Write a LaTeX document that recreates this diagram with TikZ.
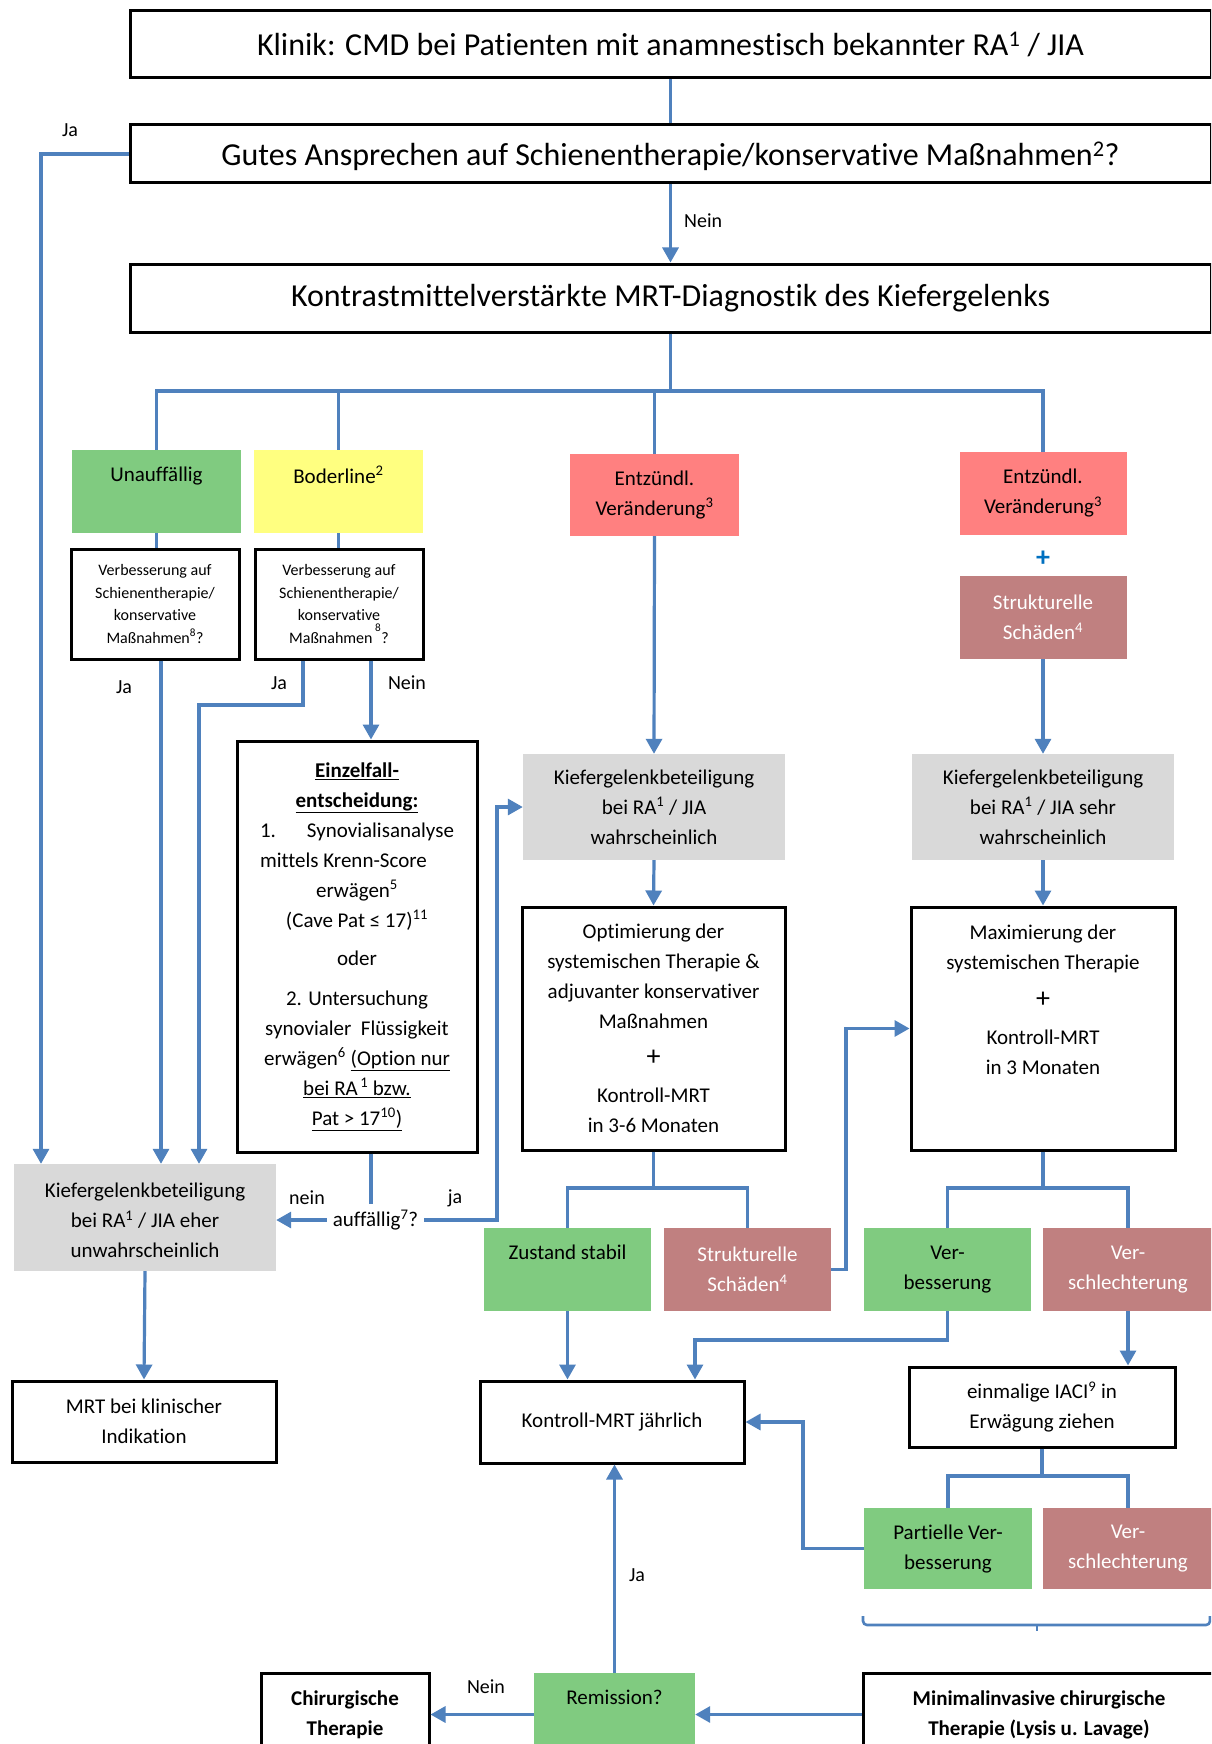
\documentclass[tikz,border=0pt]{standalone}
\usepackage{fontspec}
\setmainfont{Carlito}[Ligatures = NoCommon]
\usetikzlibrary{arrows.meta}

\definecolor{linkblue}{RGB}{79,129,189}
\definecolor{plusblue}{RGB}{0,112,192}
\definecolor{gruen}{RGB}{128,203,128}
\definecolor{gelb}{RGB}{255,255,128}
\definecolor{lachs}{RGB}{255,128,128}
\definecolor{rosa}{RGB}{192,128,128}
\definecolor{grau}{RGB}{217,217,217}

\newcommand\fgross{\fontsize{32}{38}\selectfont}
\newcommand\fnormal{\fontsize{21}{30}\selectfont}
\newcommand\fklein{\fontsize{16}{22.5}\selectfont}
\newcommand\fmarke{\fontsize{20}{24}\selectfont}

\begin{document}
\begin{tikzpicture}[
    x = 1pt, y = -1pt,
    % boxes with a black frame
    rahmen/.style = {draw = black, line width = 3pt, fill = white,
      inner sep = 0pt, align = center, font = \fnormal},
    kopf/.style = {rahmen, minimum width = 1081pt, font = \fgross},
    % coloured boxes without frame
    feld/.style = {fill = #1, inner sep = 0pt, align = center, font = \fnormal},
    weiss/.style = {text = white},
    linie/.style = {draw = linkblue, line width = 3.2pt},
    pfeil/.style = {linie, -{Triangle[length = 15pt, width = 16pt]}},
    marke/.style = {inner sep = 0pt, font = \fmarke},
    ]

    \useasboundingbox (0, 0) rectangle (1211, 1744);
    \clip (0, 0) rectangle (1211, 1744);
    \fill[white] (0, 0) rectangle (1211, 1744);

    % the three headers, open to the right
    \node[kopf, minimum height = 67pt] (klinik) at (670.5, 44.5)
      {Klinik: CMD bei Patienten mit anamnestisch bekannter RA\textsuperscript{1} / JIA};
    \node[kopf, minimum height = 58pt, text height = 28pt, text depth = 4pt] (gutes) at (670.5, 154)
      {Gutes Ansprechen auf Schienentherapie/konservative Ma\ss nahmen\textsuperscript{2}?};
    \node[kopf, minimum height = 68pt] (mrt) at (670.5, 298)
      {Kontrastmittelverst\"arkte MRT-Diagnostik des Kiefergelenks};

    % findings of the MRT
    \node[feld = gruen, minimum width = 169pt, minimum height = 83pt] (unauff) at (156.5, 491.5)
      {Unauff\"allig\\[4pt]\mbox{}};
    \node[feld = gelb, minimum width = 169pt, minimum height = 83pt] (boder) at (338.5, 491.5)
      {Boderline\textsuperscript{2}\\[4pt]\mbox{}};
    \node[feld = lachs, minimum width = 169pt, minimum height = 82pt] (entz1) at (654.5, 495)
      {Entz\"undl.\\Ver\"anderung\textsuperscript{3}};
    \node[feld = lachs, minimum width = 167pt, minimum height = 83pt] (entz2) at (1043, 493.5)
      {Entz\"undl.\\Ver\"anderung\textsuperscript{3}};
    \node[inner sep = 0pt, text = plusblue, font = \fontsize{28}{30}\selectfont\bfseries] (plus) at (1043, 559) {+};
    \node[feld = rosa, weiss, minimum width = 167pt, minimum height = 83pt] (strukt1) at (1043, 617.5)
      {Strukturelle\\Sch\"aden\textsuperscript{4}};

    % questions below the left findings
    \node[rahmen, font = \fklein, minimum width = 168pt, minimum height = 110pt] (verb1) at (155, 604)
      {Verbesserung auf\\Schienentherapie/\\konservative\\Ma\ss nahmen\textsuperscript{8}?};
    \node[rahmen, font = \fklein, minimum width = 168pt, minimum height = 110pt] (verb2) at (339, 604)
      {Verbesserung auf\\Schienentherapie/\\konservative\\Ma\ss nahmen\,\raisebox{5pt}{\textsuperscript{8}}?};

    \node[rahmen, minimum width = 240pt, minimum height = 411pt] (einzel) at (357, 946.5)
      {\textbf{\underline{Einzelfall-}}\\
       \textbf{\underline{entscheidung:}}\\
       \makebox[194pt]{1.\hfill Synovialisanalyse}\\
       \makebox[194pt][l]{mittels Krenn-Score}\\
       erw\"agen\textsuperscript{5}\\
       (Cave Pat ≤ 17)\textsuperscript{11}\\[8pt]
       oder\\[10pt]
       2. Untersuchung\\
       synovialer\ \ Fl\"ussigkeit\\
       erw\"agen\textsuperscript{6} \underline{(Option nur}\\
       \underline{bei RA\textsuperscript{\,1} bzw.}\\
       \underline{Pat > 17\textsuperscript{10})}};

    % probable / very probable involvement
    \node[feld = grau, minimum width = 262pt, minimum height = 106pt] (kmid) at (654, 807)
      {Kiefergelenkbeteiligung\\bei RA\textsuperscript{1} / JIA\\wahrscheinlich};
    \node[feld = grau, minimum width = 262pt, minimum height = 106pt] (kright) at (1043, 807)
      {Kiefergelenkbeteiligung\\bei RA\textsuperscript{1} / JIA sehr\\wahrscheinlich};

    \node[rahmen, minimum width = 263pt, minimum height = 243pt] (opt) at (653.5, 1028.5)
      {Optimierung der\\systemischen Therapie \&\\adjuvanter konservativer\\Ma\ss nahmen\\[7pt]
       {\fontsize{28}{30}\selectfont +}\\[7pt]Kontroll-MRT\\in 3-6 Monaten};
    \node[rahmen, minimum width = 264pt, minimum height = 243pt] (maxi) at (1043, 1028.5)
      {Maximierung der\\systemischen Therapie\\[8pt]
       {\fontsize{28}{30}\selectfont +}\\[7pt]Kontroll-MRT\\in 3 Monaten\\[28pt]\mbox{}};

    % unlikely involvement
    \node[feld = grau, minimum width = 262pt, minimum height = 107pt] (keher) at (145, 1217.5)
      {\mbox{}\\[-9pt]Kiefergelenkbeteiligung\\bei RA\textsuperscript{1} / JIA eher\\unwahrscheinlich};
    \node[inner sep = 6pt, font = \fnormal] (auff) at (375.5, 1220) {auff\"allig\textsuperscript{7}?};
    \node[rahmen, minimum width = 264pt, minimum height = 81pt] (mrtklin) at (144, 1421.5)
      {MRT bei klinischer\\Indikation};

    % course under therapy
    \node[feld = gruen, minimum width = 167pt, minimum height = 83pt] (stabil) at (567.5, 1269.5)
      {Zustand stabil\\[4pt]\mbox{}};
    \node[feld = rosa, weiss, minimum width = 167pt, minimum height = 83pt] (strukt2) at (747.5, 1269.5)
      {Strukturelle\\Sch\"aden\textsuperscript{4}};
    \node[feld = gruen, minimum width = 167pt, minimum height = 83pt] (verbess) at (947.5, 1269.5)
      {Ver-\\besserung};
    \node[feld = rosa, weiss, minimum width = 170pt, minimum height = 83pt] (verschl) at (1128, 1269.5)
      {Ver-\\schlechterung};

    \node[rahmen, minimum width = 264pt, minimum height = 82pt] (kontr) at (612, 1422)
      {Kontroll-MRT j\"ahrlich};
    \node[rahmen, minimum width = 266pt, minimum height = 80pt] (iaci) at (1042, 1407)
      {einmalige IACI\textsuperscript{9} in\\Erw\"agung ziehen};
    \node[feld = gruen, minimum width = 168pt, minimum height = 81pt] (partiell) at (948, 1548.5)
      {Partielle Ver-\\besserung};
    \node[feld = rosa, weiss, minimum width = 170pt, minimum height = 81pt] (verschl2) at (1128, 1548.5)
      {Ver-\\schlechterung};

    % bottom row, cut at the page border
    \node[rahmen, font = \fnormal\bfseries, minimum width = 168pt, minimum height = 83pt] (chir) at (345, 1714.5)
      {Chirurgische\\Therapie};
    \node[feld = gruen, minimum width = 161pt, minimum height = 83pt] (remi) at (614.5, 1714.5)
      {Remission?\\[4pt]\mbox{}};
    \node[rahmen, font = \fnormal\bfseries, minimum width = 352pt, minimum height = 83pt] (minimal) at (1039, 1714.5)
      {Minimalinvasive chirurgische\\Therapie (Lysis u. Lavage)};

    % rails and forks for the connectors
    \coordinate (xa) at (41, 0);
    \coordinate (xb) at (161, 0);
    \coordinate (xc) at (199, 0);
    \coordinate (xd) at (303, 0);
    \coordinate (xe) at (371, 0);
    \coordinate (xf) at (497, 0);
    \coordinate (xg) at (846, 0);
    \coordinate (xh) at (695, 0);
    \coordinate (xi) at (803, 0);
    \coordinate (yb) at (0, 705);
    \coordinate (yd) at (0, 1340);
    \coordinate (gabel0) at (670.5, 391);
    \coordinate (gabelA) at (653.5, 1188);
    \coordinate (gabelB) at (1043, 1188);
    \coordinate (gabelC) at (1042, 1476);

    % top part
    \draw[linie] (klinik.south) -- (gutes.north);
    \draw[pfeil] (gutes.south) -- (mrt.north);
    \draw[pfeil] (gutes.west) -| (xa |- keher.north);
    \draw[linie] (mrt.south) -- (gabel0);
    \draw[linie] (unauff.north) |- (gabel0) -| (entz2.north);
    \draw[linie] (boder.north) -- (boder.north |- gabel0);
    \draw[linie] (entz1.north) -- (entz1.north |- gabel0);

    % left branch
    \draw[linie] (unauff.south) -- (unauff.south |- verb1.north);
    \draw[linie] (boder.south) -- (boder.south |- verb2.north);
    \draw[pfeil] (verb1.south -| xb) -- (xb |- keher.north);
    \draw[pfeil] (verb2.south -| xd) -- (xd |- yb) -| (xc |- keher.north);
    \draw[pfeil] (verb2.south -| xe) -- (xe |- einzel.north);
    \draw[linie] (einzel.south -| xe) -- (xe |- auff.north);
    \draw[pfeil] (auff.west) -- (auff.west -| keher.east);
    \draw[pfeil] (auff.east) -| (xf |- kmid.west) -- (kmid.west);
    \draw[pfeil] (keher.south) -- (mrtklin.north);

    % middle and right branch
    \draw[pfeil] (entz1.south) -- (kmid.north);
    \draw[pfeil] (strukt1.south) -- (kright.north);
    \draw[pfeil] (kmid.south) -- (opt.north);
    \draw[pfeil] (kright.south) -- (maxi.north);
    \draw[linie] (opt.south) -- (gabelA);
    \draw[linie] (stabil.north) |- (gabelA) -| (strukt2.north);
    \draw[linie] (maxi.south) -- (gabelB);
    \draw[linie] (verbess.north) |- (gabelB) -| (verschl.north);
    \draw[pfeil] (strukt2.east) -| (xg |- maxi.west) -- (maxi.west);
    \draw[pfeil] (stabil.south) -- (stabil.south |- kontr.north);
    \draw[pfeil] (verbess.south) -- (verbess.south |- yd) -| (xh |- kontr.north);
    \draw[pfeil] (verschl.south) -- (verschl.south |- iaci.north);
    \draw[linie] (iaci.south) -- (gabelC);
    \draw[linie] (partiell.north) |- (gabelC) -| (verschl2.north);
    \draw[pfeil] (partiell.west) -| (xi |- kontr.east) -- (kontr.east);

    % brace under the two results
    \draw[linie, line width = 2.6pt, rounded corners = 4pt] (863, 1616) -- (863, 1625) -- (1210, 1625) -- (1210, 1616);
    \draw[linie, line width = 2.6pt] (1037, 1625) -- (1037, 1631);

    % bottom row
    \draw[pfeil] (remi.north) -- (remi.north |- kontr.south);
    \draw[pfeil] (minimal.west) -- (remi.east);
    \draw[pfeil] (remi.west) -- (chir.east);

    % labels of the connectors
    \node[marke] (jaA) at (70, 130) {Ja};
    \node[marke, anchor = west] (neinA) at (684, 221) {Nein};
    \node[marke] (jaB) at (124, 687) {Ja};
    \node[marke] (jaC) at (279, 683) {Ja};
    \node[marke] (neinB) at (407, 683) {Nein};
    \node[marke] (neinC) at (307, 1198) {nein};
    \node[marke] (jaD) at (455, 1198) {ja};
    \node[marke] (jaE) at (637, 1575) {Ja};
    \node[marke] (neinD) at (486, 1687) {Nein};

\end{tikzpicture}
\end{document}
